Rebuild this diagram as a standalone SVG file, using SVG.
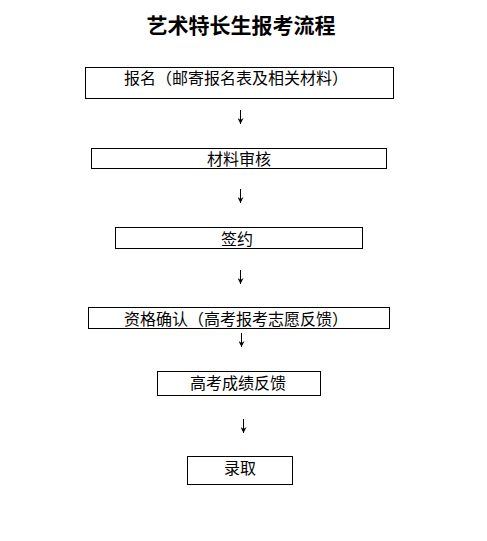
<svg xmlns="http://www.w3.org/2000/svg" width="487" height="541" viewBox="0 0 487 541">
<style>
.box{fill:#fff;stroke:#000;stroke-width:1}
.t{font-family:"Noto Sans CJK SC","Noto Sans CJK JP",sans-serif;font-size:16px;fill:#000;text-anchor:middle}
.title{font-family:"Noto Sans CJK SC",sans-serif;font-size:21px;font-weight:bold;fill:#000;text-anchor:middle}
.c{stroke:#000;stroke-width:1;fill:none;marker-end:url(#ah)}
</style>
<defs>
<marker id="ah" viewBox="0 0 6 6" refX="6" refY="3" markerWidth="6" markerHeight="6" markerUnits="userSpaceOnUse" orient="auto">
<path d="M0,0 L6,3 L0,6 L2,3 Z" fill="#000"/>
</marker>
</defs>
<rect width="487" height="541" fill="#fff"/>
<text class="title" x="241" y="33">艺术特长生报考流程</text>
<g id="n1"><rect class="box" x="85.5" y="67.5" width="308" height="31"/><text class="t" x="236" y="84">报名（邮寄报名表及相关材料）</text></g>
<g id="n2"><rect class="box" x="91.5" y="148.5" width="295" height="20"/><text class="t" x="239" y="165">材料审核</text></g>
<g id="n3"><rect class="box" x="115.5" y="227.5" width="247" height="21"/><text class="t" x="237" y="245">签约</text></g>
<g id="n4"><rect class="box" x="88.5" y="307.5" width="301" height="21"/><text class="t" x="236" y="325">资格确认（高考报考志愿反馈）</text></g>
<g id="n5"><rect class="box" x="157.5" y="371.5" width="163" height="24"/><text class="t" x="238" y="389">高考成绩反馈</text></g>
<g id="n6"><rect class="box" x="187.5" y="456.5" width="105" height="28"/><text class="t" x="240" y="474">录取</text></g>
<g id="connectors">
<path class="c" d="M240.5,110 V124"/>
<path class="c" d="M240.5,189 V203"/>
<path class="c" d="M240.5,270 V284"/>
<path class="c" d="M241.5,333 V347"/>
<path class="c" d="M243.5,419 V433"/>
</g>
</svg>
